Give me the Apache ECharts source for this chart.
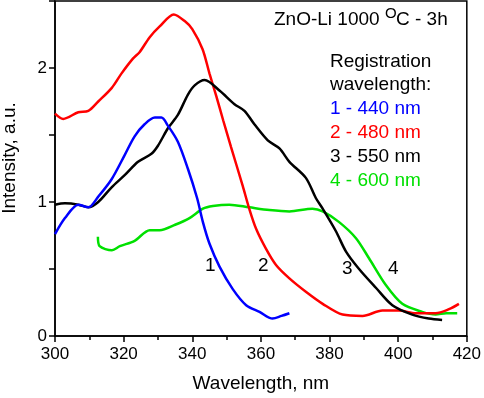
<html>
<head>
<meta charset="utf-8">
<title>ZnO-Li 1000 OC - 3h</title>
<script src="https://cdn.jsdelivr.net/npm/echarts@6/dist/echarts.min.js"></script>
<style>
  html, body { margin: 0; padding: 0; background: #fff; }
  #main { width: 484px; height: 398px; }
</style>
</head>
<body>
<div id="main"></div>
<script>
// wavelength, intensity pairs
var blue440 = [
  [300, 0.76], [302.9, 0.88], [306.8, 0.98], [309.7, 0.96], [312.6, 1.04], [316.5, 1.17],
  [320.3, 1.35], [323.2, 1.49], [326.1, 1.58], [329.1, 1.63], [331, 1.63], [332.9, 1.57],
  [335.8, 1.45], [338.7, 1.25], [341.4, 1.03], [343.1, 0.85], [345, 0.69], [347.9, 0.52],
  [351.8, 0.35], [355.7, 0.23], [359.6, 0.18], [363.4, 0.13], [366, 0.15], [368.3, 0.17]
];
var red480 = [
  [300, 1.66], [302.4, 1.62], [306.8, 1.67], [309.7, 1.68], [312.6, 1.75], [316.5, 1.85],
  [319.4, 1.96], [322.7, 2.07], [324.7, 2.12], [327.6, 2.23], [330.5, 2.31], [334.6, 2.40],
  [337.8, 2.35], [340, 2.29], [343, 2.14], [345, 1.96], [347, 1.79], [349, 1.61],
  [351.3, 1.41], [354.7, 1.12], [356.6, 0.95], [358.6, 0.80], [361.5, 0.65], [364.4, 0.53],
  [368.3, 0.43], [373.1, 0.33], [378, 0.24], [383.8, 0.16], [389.6, 0.15], [395.4, 0.19],
  [400.2, 0.19], [405.1, 0.17], [410.9, 0.17], [414.8, 0.20], [417.7, 0.24]
];
var black550 = [
  [300, 0.98], [302.9, 0.99], [306.8, 0.98], [309.7, 0.96], [312.6, 1.00], [316.5, 1.11],
  [320.3, 1.20], [324.2, 1.30], [328.1, 1.36], [330, 1.42], [332.9, 1.55], [335.8, 1.65],
  [338.7, 1.80], [340.7, 1.87], [343.6, 1.91], [348, 1.83], [352.3, 1.73], [355.2, 1.68],
  [358.1, 1.58], [362, 1.46], [365.4, 1.40], [368.3, 1.30], [373.1, 1.18], [376, 1.03],
  [378, 0.95], [381.9, 0.78], [384.8, 0.63], [388.6, 0.50], [393.5, 0.36], [398.3, 0.23],
  [404.1, 0.16], [408.9, 0.13], [412.8, 0.12]
];
var green600 = [
  [312.5, 0.74], [313, 0.67], [316.6, 0.64], [318.9, 0.67], [323.2, 0.71], [327.6, 0.79],
  [330.5, 0.79], [335, 0.83], [339.2, 0.88], [343.1, 0.95], [346, 0.97], [350.8, 0.98],
  [356.6, 0.96], [362.5, 0.94], [368.3, 0.93], [375, 0.95], [378, 0.93], [382.8, 0.85],
  [387.7, 0.73], [391.5, 0.58], [396.4, 0.38], [401.2, 0.24], [407, 0.18], [410.9, 0.16],
  [414, 0.17], [417.2, 0.17]
];
var xTicks = [300, 320, 340, 360, 380, 400, 420];
var yTicks = [0, 1, 2];

var myChart = echarts.init(document.getElementById('main'));
var font = 'Liberation Sans, Arial, sans-serif';

function line(data, color) {
  return { type: 'line', data: data, showSymbol: false, smooth: 0.3,
           lineStyle: { color: color, width: 2.5 }, animation: false };
}
function txt(x, y, s, color, size) {
  return { type: 'text', left: x, top: y,
           style: { text: s, fill: color || '#000', font: (size || 19) + 'px ' + font } };
}

var option = {
  animation: false,
  grid: { left: 55, right: 16, top: 1, bottom: 61, show: true, borderColor: '#000', borderWidth: 1.5 },
  xAxis: {
    type: 'value', min: 300, max: 420, interval: 20,
    name: 'Wavelength, nm', nameLocation: 'middle', nameGap: 38,
    nameTextStyle: { color: '#000', fontSize: 19, fontFamily: font },
    axisLine: { lineStyle: { color: '#000', width: 1.5 } },
    axisTick: { length: 6, lineStyle: { color: '#000', width: 1.5 } },
    minorTick: { show: true, splitNumber: 2, length: 4, lineStyle: { color: '#000', width: 1.5 } },
    axisLabel: { color: '#000', fontSize: 17, fontFamily: font, margin: 10,
      formatter: function (v) { return xTicks.indexOf(v) >= 0 ? String(v) : ''; } },
    splitLine: { show: false }
  },
  yAxis: {
    type: 'value', min: 0, max: 2.5, interval: 0.5,
    axisLine: { show: true, lineStyle: { color: '#000', width: 1.5 } },
    axisTick: { show: true, length: 6, lineStyle: { color: '#000', width: 1.5 } },
    axisLabel: { color: '#000', fontSize: 17, fontFamily: font, margin: 8,
      formatter: function (v) { return yTicks.indexOf(v) >= 0 ? String(v) : ''; } },
    splitLine: { show: false }
  },
  graphic: [
    { type: 'text', x: 10, y: 158, rotation: Math.PI / 2,
      style: { text: 'Intensity, a.u.', fill: '#000', font: '19px ' + font, textAlign: 'center', textVerticalAlign: 'middle' } },
    txt(274, 10, 'ZnO-Li 1000'),
    txt(385, 6, 'O', '#000', 15),
    txt(396, 10, 'C - 3h'),
    txt(330, 52, 'Registration'),
    txt(330, 75, 'wavelength:'),
    txt(330, 99, '1 - 440 nm', '#0000ff'),
    txt(330, 123, '2 - 480 nm', '#ff0000'),
    txt(330, 147, '3 - 550 nm', '#000'),
    txt(330, 171, '4 - 600 nm', '#00e000'),
    txt(205, 256, '1'),
    txt(258, 256, '2'),
    txt(342, 259, '3'),
    txt(388, 259, '4')
  ],
  series: [
    line(green600, '#00e000'),
    line(red480, '#ff0000'),
    line(black550, '#000000'),
    line(blue440, '#0000ff')
  ]
};
myChart.setOption(option);
</script>
</body>
</html>
